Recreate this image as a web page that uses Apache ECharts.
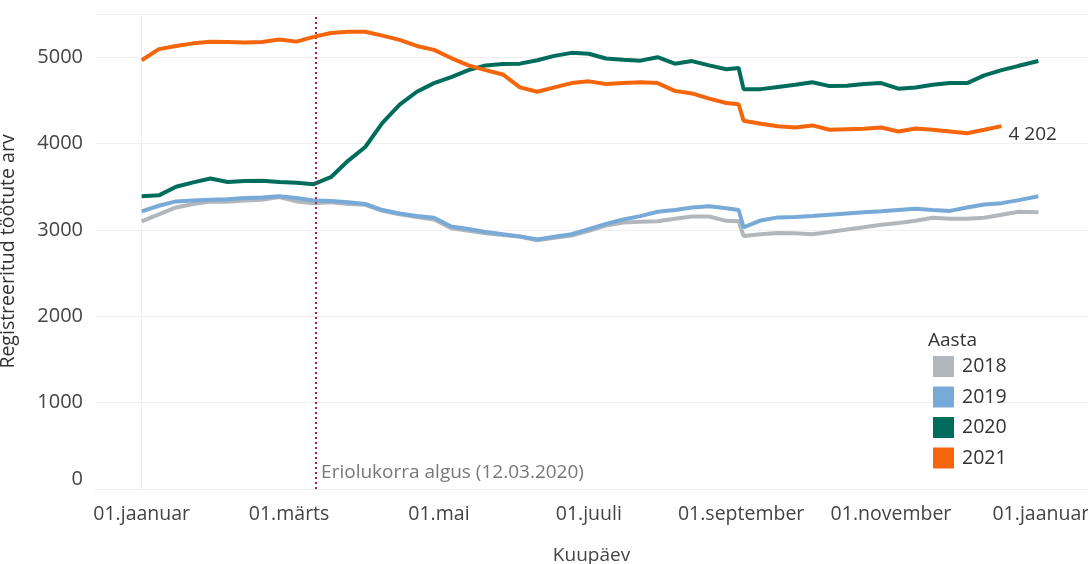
<!DOCTYPE html>
<html>
<head>
<meta charset="utf-8">
<script src="https://cdn.jsdelivr.net/npm/echarts@6/dist/echarts.min.js"></script>
<style>
  html, body { margin: 0; padding: 0; background: #fff; }
  #chartDIV { width: 1088px; height: 564px; }
</style>
</head>
<body>
<div id="chartDIV"></div>
<script>
// päev aasta algusest (0 = 01.jaanuar)
var days = [0, 7, 14, 21, 28, 35, 42, 49, 56, 63, 70, 77, 84, 91, 98, 105, 112, 119, 126, 133,
    140, 147, 154, 161, 168, 175, 182, 189, 196, 203, 210, 217, 224, 231, 238, 243, 245, 252,
    259, 266, 273, 280, 287, 294, 301, 308, 315, 322, 329, 336, 343, 350, 357, 365];

var years = ['2018', '2019', '2020', '2021'];

var v2018 = [3100, 3180, 3260, 3300, 3330, 3325, 3340, 3350, 3380, 3330, 3310, 3320, 3300, 3290,
    3220, 3180, 3150, 3120, 3020, 2990, 2960, 2940, 2920, 2880, 2910, 2935, 2990, 3050, 3085,
    3095, 3100, 3130, 3155, 3155, 3105, 3100, 2930, 2950, 2965, 2960, 2950, 2975, 3005, 3030,
    3060, 3080, 3105, 3140, 3130, 3130, 3140, 3175, 3210, 3205];
var v2019 = [3215, 3280, 3330, 3340, 3350, 3355, 3370, 3375, 3390, 3370, 3340, 3335, 3320, 3300,
    3230, 3190, 3160, 3140, 3040, 3010, 2975, 2950, 2925, 2890, 2920, 2950, 3010, 3070, 3120,
    3160, 3210, 3230, 3260, 3275, 3250, 3230, 3030, 3110, 3145, 3150, 3160, 3175, 3190, 3205,
    3215, 3230, 3245, 3230, 3220, 3260, 3295, 3310, 3345, 3390];
var v2020 = [3390, 3400, 3500, 3550, 3595, 3555, 3565, 3570, 3555, 3545, 3530, 3610, 3800, 3960,
    4240, 4450, 4600, 4700, 4770, 4850, 4905, 4920, 4925, 4965, 5015, 5050, 5040, 4985, 4970,
    4960, 5000, 4925, 4955, 4905, 4860, 4875, 4630, 4630, 4655, 4680, 4710, 4665, 4670, 4690,
    4700, 4635, 4650, 4680, 4700, 4700, 4790, 4850, 4900, 4955];
var v2021 = [4965, 5093, 5130, 5160, 5180, 5175, 5170, 5175, 5205, 5180, 5235, 5280, 5295, 5295,
    5250, 5200, 5130, 5085, 4990, 4905, 4850, 4800, 4650, 4600, 4650, 4700, 4720, 4690, 4700,
    4710, 4700, 4610, 4580, 4520, 4470, 4455, 4265, 4230, 4200, 4185, 4210, 4160, 4165, 4170,
    4185, 4140, 4175, 4160, 4140, 4120, 4160, 4202];

// x-telje sildid (kuu esimesed päevad, liigaasta)
var tickDays = [0, 60, 121, 182, 244, 305, 366];
var tickLabels = ['01.jaanuar', '01.märts', '01.mai', '01.juuli', '01.september', '01.november', '01.jaanuar'];

var eriolukordDay = 71; // 12.03.2020
var eriolukordLabel = 'Eriolukorra algus (12.03.2020)';

var colors = ['#b3b7bb', '#77aad6', '#006d5c', '#f5660c'];
var allValues = [v2018, v2019, v2020, v2021];

function pairs(vals) {
    var out = [];
    for (var i = 0; i < vals.length; i++) {
        out.push([days[i], vals[i]]);
    }
    return out;
}

var font = 'Open Sans';
var series = [];
for (var i = 0; i < years.length; i++) {
    var s = {
        name: years[i],
        type: 'line',
        data: pairs(allValues[i]),
        symbol: 'none',
        color: colors[i],
        lineStyle: { width: 4 },
        z: 2 + i
    };
    if (i === 3) {
        s.endLabel = {
            show: true,
            distance: 7,
            offset: [0, 8],
            color: '#333',
            fontFamily: font,
            fontSize: 19,
            formatter: function (p) {
                return String(p.value[1]).replace(/\B(?=(\d{3})+(?!\d))/g, ' ');
            }
        };
    }
    series.push(s);
}

// eriolukorra joon ja silt
series.push({
    name: 'eriolukord',
    type: 'scatter',
    data: [[eriolukordDay, 0]],
    symbolSize: 0,
    silent: true,
    z: 10,
    label: {
        show: true,
        position: 'right',
        distance: 5,
        offset: [0, -16],
        formatter: eriolukordLabel,
        color: '#555',
        fontFamily: font,
        fontSize: 19
    },
    markLine: {
        silent: true,
        symbol: 'none',
        label: { show: false },
        lineStyle: { color: '#a8203a', type: [2, 3], width: 2 },
        data: [{ xAxis: eriolukordDay }]
    }
});

var myChart = echarts.init(document.getElementById('chartDIV'));
var option = {
    animation: false,
    textStyle: { fontFamily: font },
    title: {
        text: 'Aasta',
        left: 923,
        top: 326,
        textStyle: { fontSize: 19, fontWeight: 'normal', color: '#333', fontFamily: font }
    },
    legend: {
        data: years,
        orient: 'vertical',
        left: 928,
        top: 351,
        icon: 'rect',
        itemWidth: 21,
        itemHeight: 21,
        itemGap: 9.5,
        textStyle: { fontSize: 19.5, color: '#333', fontFamily: font, padding: [0, 0, 0, 3] }
    },
    grid: {
        left: 95,
        right: 0,
        top: 14,
        bottom: 75,
        outerBoundsMode: 'none'
    },
    xAxis: {
        type: 'value',
        min: -19,
        max: 385.2,
        name: 'Kuupäev',
        nameLocation: 'middle',
        nameGap: 57,
        nameTextStyle: { fontSize: 19, color: '#444', fontFamily: font },
        axisLine: { show: true, lineStyle: { color: '#eeeeee' } },
        axisTick: { show: false },
        splitLine: { show: false },
        axisLabel: {
            customValues: tickDays,
            margin: 15,
            fontSize: 19.5,
            color: '#444',
            fontFamily: font,
            formatter: function (v) {
                var k = tickDays.indexOf(v);
                return k >= 0 ? tickLabels[k] : '';
            }
        }
    },
    yAxis: {
        type: 'value',
        min: 0,
        max: 5500,
        interval: 1000,
        name: 'Registreeritud töötute arv',
        nameLocation: 'middle',
        nameGap: 77,
        nameTextStyle: { fontSize: 19.5, color: '#333', fontFamily: font },
        axisLine: { show: true, lineStyle: { color: '#f0f0f0' } },
        axisTick: { show: false },
        splitLine: { lineStyle: { color: '#f0f0f0', width: 1 } },
        axisLabel: {
            fontSize: 20,
            color: '#444',
            margin: 12,
            fontFamily: font,
            verticalAlignMinLabel: 'bottom',
            formatter: function (v) {
                return v > 5000 ? '' : String(v);
            }
        }
    },
    series: series
};
myChart.setOption(option);
</script>
</body>
</html>
